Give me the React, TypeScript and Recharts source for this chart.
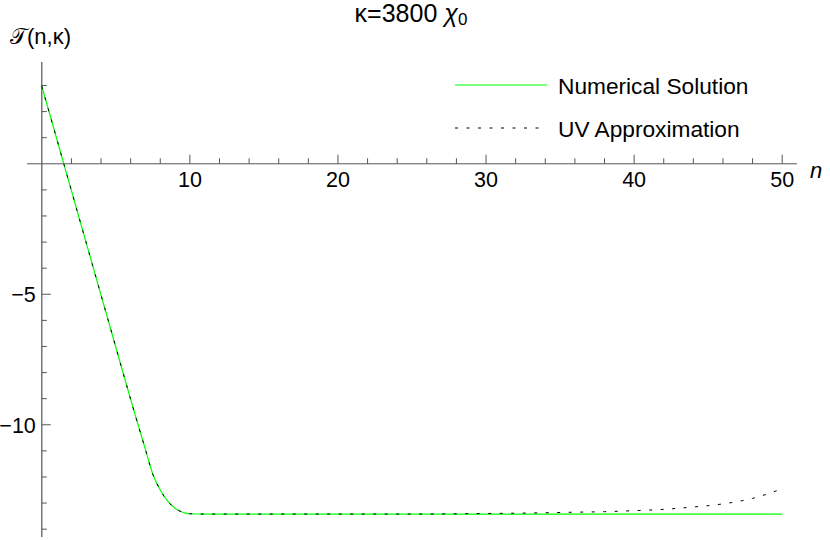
import React from 'react';
import { LineChart, Line, XAxis, YAxis, ReferenceLine, Legend } from 'recharts';

const nValues = [0, 1, 2, 3, 4, 5, 6, 6.5, 7, 7.5, 8, 8.5, 9, 9.5, 10, 11, 12, 15, 20, 25, 30, 33, 36, 38, 40, 42, 43, 44, 45, 46, 47, 48, 49, 50];
const numericalSolution = [2.97, 0.97, -1.03, -3.03, -5.03, -7.03, -9.03, -10.0, -10.95, -11.9, -12.5, -12.93, -13.2, -13.35, -13.41, -13.42, -13.42, -13.42, -13.42, -13.42, -13.42, -13.42, -13.42, -13.42, -13.42, -13.42, -13.42, -13.42, -13.42, -13.42, -13.42, -13.42, -13.42, -13.42];
const uvApproximation = [2.97, 0.97, -1.03, -3.03, -5.03, -7.03, -9.03, -10.0, -10.95, -11.9, -12.5, -12.93, -13.2, -13.35, -13.41, -13.42, -13.42, -13.42, -13.42, -13.42, -13.4, -13.38, -13.35, -13.33, -13.29, -13.24, -13.2, -13.15, -13.1, -13.03, -12.94, -12.82, -12.65, -12.45];

const xMajorTicks = [10, 20, 30, 40, 50];
const xMajorLabels = ['10', '20', '30', '40', '50'];
const xMinorTicks = [2, 4, 6, 8, 12, 14, 16, 18, 22, 24, 26, 28, 32, 34, 36, 38, 42, 44, 46, 48];
const yMajorTicks = [-5, -10];
const yMajorLabels = ['\u22125', '\u221210'];
const yMinorTicks = [3, 2, 1, -1, -2, -3, -4, -6, -7, -8, -9, -11, -12, -13, -14];

const data = nValues.map((n, i) => ({ n, numerical: numericalSolution[i], uv: uvApproximation[i] }));

const FONT = '"Liberation Sans", Arial, sans-serif';
const TICK_FS = 21.5;
const LEGEND_FS = 22.7;
const AXIS_COLOR = '#555';
const GREEN = '#00ff00';

const xTickShape = (len: number, label?: string) => (p: any) => (
  <g>
    <line x1={p.x1} y1={p.y1} x2={p.x1} y2={p.y1 - len} stroke={AXIS_COLOR} strokeWidth={1} />
    {label ? (
      <text x={p.x1} y={p.y1 + 23.5} textAnchor="middle" fontFamily={FONT} fontSize={TICK_FS} fill="#000">{label}</text>
    ) : null}
  </g>
);

const yTickShape = (len: number, label?: string) => (p: any) => (
  <g>
    <line x1={p.x1} y1={p.y1} x2={p.x1 + len} y2={p.y1} stroke={AXIS_COLOR} strokeWidth={1} />
    {label ? (
      <text x={p.x1 - 6} y={p.y1 + 8} textAnchor="end" fontFamily={FONT} fontSize={TICK_FS} fill="#000">{label}</text>
    ) : null}
  </g>
);

const LegendContent = () => (
  <svg width={340} height={80} style={{ overflow: 'visible' }}>
    <line x1={5} y1={15} x2={97} y2={15} stroke={GREEN} strokeWidth={1.2} />
    <text x={108} y={24} fontFamily={FONT} fontSize={LEGEND_FS} fill="#000">Numerical Solution</text>
    <line x1={5} y1={58} x2={92} y2={58} stroke="#000" strokeWidth={1} strokeDasharray="3 8.5" />
    <text x={108} y={67} fontFamily={FONT} fontSize={LEGEND_FS} fill="#000">UV Approximation</text>
  </svg>
);

export default function App() {
  return (
    <div style={{ position: 'absolute', left: 0, top: 0, width: 830, height: 540, background: '#fff' }}>
      <LineChart width={830} height={540} data={data} margin={{ top: 62, right: 33, bottom: 3, left: 27 }}>
        <XAxis dataKey="n" type="number" domain={[-1, 51]} hide allowDataOverflow />
        <YAxis type="number" domain={[-14.3, 3.9]} hide allowDataOverflow />
        <ReferenceLine y={0} stroke={AXIS_COLOR} strokeWidth={1} />
        <ReferenceLine x={0} stroke={AXIS_COLOR} strokeWidth={1.2} />
        {xMinorTicks.map((t) => (
          <ReferenceLine key={'xm' + t} segment={[{ x: t, y: 0 }, { x: t, y: 0 }]} shape={xTickShape(5.5)} />
        ))}
        {xMajorTicks.map((t, i) => (
          <ReferenceLine key={'xM' + t} segment={[{ x: t, y: 0 }, { x: t, y: 0 }]} shape={xTickShape(9, xMajorLabels[i])} />
        ))}
        {yMinorTicks.map((t) => (
          <ReferenceLine key={'ym' + t} segment={[{ x: 0, y: t }, { x: 0, y: t }]} shape={yTickShape(5)} />
        ))}
        {yMajorTicks.map((t, i) => (
          <ReferenceLine key={'yM' + t} segment={[{ x: 0, y: t }, { x: 0, y: t }]} shape={yTickShape(9, yMajorLabels[i])} />
        ))}
        <Line type="monotone" dataKey="numerical" stroke={GREEN} strokeWidth={1.2} dot={false} isAnimationActive={false} />
        <Line type="monotone" dataKey="uv" stroke="#000" strokeWidth={1} strokeDasharray="3 8.5" dot={false} isAnimationActive={false} />
        <Legend layout="vertical" align="center" verticalAlign="middle" content={<LegendContent />} wrapperStyle={{ left: 450, top: 70, width: 340, height: 80 }} />
      </LineChart>
      <svg width={830} height={540} style={{ position: 'absolute', left: 0, top: 0, pointerEvents: 'none' }}>
        <text x={411} y={22} textAnchor="middle" fontFamily={FONT} fontSize={25} fill="#000">
          κ=3800 <tspan fontStyle="italic">χ</tspan><tspan fontSize={17} dy={3}>0</tspan>
        </text>
        <text x={10} y={44} fontFamily={FONT} fontSize={22} fill="#000">𝒯(n,κ)</text>
        <text x={816} y={178} textAnchor="middle" fontFamily={FONT} fontSize={22} fontStyle="italic" fill="#000">n</text>
      </svg>
    </div>
  );
}
